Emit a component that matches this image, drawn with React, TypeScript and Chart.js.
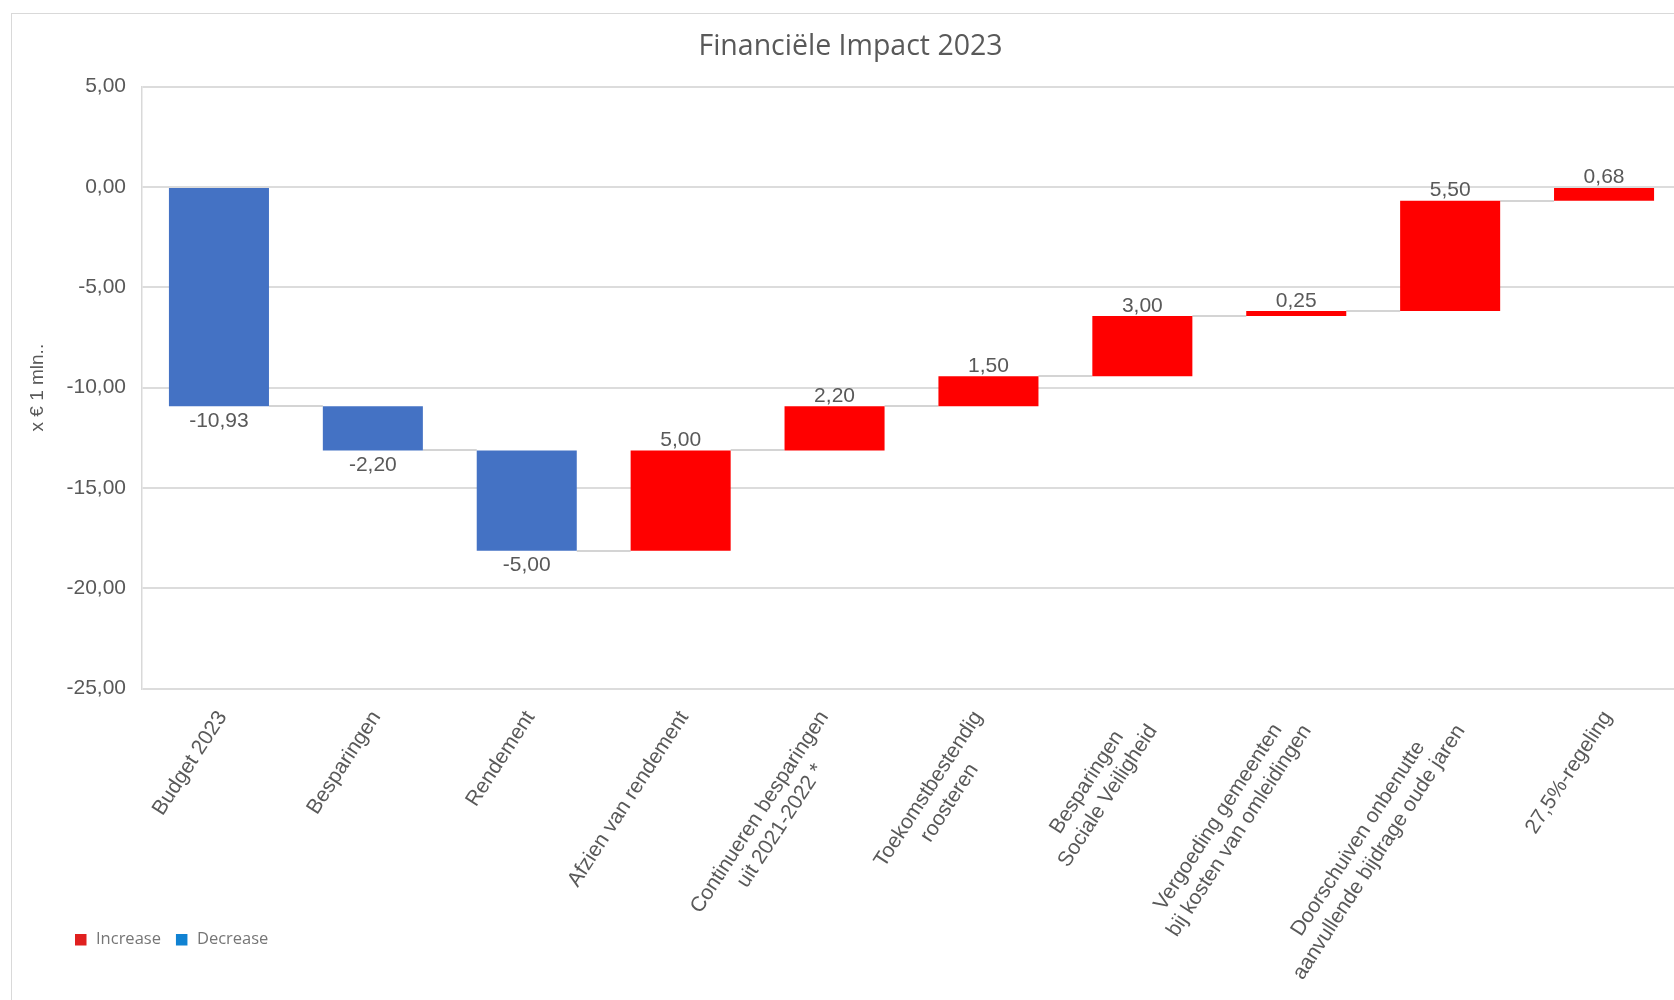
import React, { useEffect, useRef } from "react";
import { Chart, registerables } from "chart.js";

Chart.register(...registerables);

const chartTitle = "Financiële Impact 2023";
const yAxisTitle = "x € 1 mln..";
const categories: string[][] = [
  ["Budget 2023"],
  ["Besparingen"],
  ["Rendement"],
  ["Afzien van rendement"],
  ["Continueren besparingen", "uit 2021-2022 *"],
  ["Toekomstbestendig", "roosteren"],
  ["Besparingen", "Sociale Veiligheid"],
  ["Vergoeding gemeenten", "bij kosten van omleidingen"],
  ["Doorschuiven onbenutte", "aanvullende bijdrage oude jaren"],
  ["27,5%-regeling"],
];
const changes = [-10.93, -2.2, -5.0, 5.0, 2.2, 1.5, 3.0, 0.25, 5.5, 0.68];
const yMin = -25;
const yMax = 5;
const yStep = 5;
const legendItems = ["Increase", "Decrease"];

const INCREASE = "#ff0000";
const DECREASE = "#4472c4";
const LEGEND_INC = "#e0201f";
const LEGEND_DEC = "#1082d2";
const TEXT = "#595959";
const FONT = '"Liberation Sans", Arial, sans-serif';

const fmt = (v: number) => v.toFixed(2).replace(".", ",");

const ranges: [number, number][] = [];
{
  let run = 0;
  for (const c of changes) {
    ranges.push([run, run + c]);
    run += c;
  }
}

const extrasPlugin = {
  id: "waterfallExtras",
  beforeDatasetsDraw(chart: any) {
    const ctx = chart.ctx;
    const meta = chart.getDatasetMeta(0);
    const y = chart.scales.y;
    ctx.save();
    ctx.strokeStyle = "#d4d4d4";
    ctx.lineWidth = 2;
    for (let i = 0; i < meta.data.length - 1; i++) {
      const a: any = meta.data[i];
      const b: any = meta.data[i + 1];
      const yy = Math.round(y.getPixelForValue(ranges[i][1]));
      ctx.beginPath();
      ctx.moveTo(a.x + a.width / 2, yy);
      ctx.lineTo(b.x - b.width / 2, yy);
      ctx.stroke();
    }
    ctx.restore();
  },
  afterDatasetsDraw(chart: any) {
    const ctx = chart.ctx;
    const meta = chart.getDatasetMeta(0);
    const y = chart.scales.y;
    ctx.save();
    ctx.font = `21px ${FONT}`;
    ctx.fillStyle = TEXT;
    ctx.textAlign = "center";
    ctx.textBaseline = "middle";
    meta.data.forEach((el: any, i: number) => {
      const c = changes[i];
      const endPx = y.getPixelForValue(ranges[i][1]);
      const ty = c < 0 ? endPx + 14.5 : endPx - 10;
      ctx.fillText(fmt(c), el.x, ty);
    });
    ctx.restore();
  },
  afterDraw(chart: any) {
    const ctx = chart.ctx;
    const xs = chart.scales.x;
    // category labels, rotated, lines centred within the block
    ctx.save();
    ctx.font = `21px ${FONT}`;
    ctx.fillStyle = TEXT;
    const angle = (57 * Math.PI) / 180;
    const lh = 25;
    categories.forEach((lines, i) => {
      const px = xs.getPixelForTick(i);
      const maxW = Math.max(...lines.map((l) => ctx.measureText(l).width));
      const dx = lines.length > 1 ? -21 : -7;
      ctx.save();
      ctx.translate(px + dx, xs.top + 18);
      ctx.rotate(-angle);
      ctx.textAlign = "center";
      ctx.textBaseline = "middle";
      lines.forEach((l, j) => ctx.fillText(l, -maxW / 2, lh / 2 + j * lh));
      ctx.restore();
    });
    ctx.restore();

    // legend
    ctx.save();
    ctx.font = '16.5px "Open Sans", sans-serif';
    ctx.textBaseline = "middle";
    ctx.textAlign = "left";
    const cy = 939.5;
    let x = 75;
    const colors = [LEGEND_INC, LEGEND_DEC];
    legendItems.forEach((t, i) => {
      ctx.fillStyle = colors[i];
      ctx.fillRect(x, cy - 5.5, 11.5, 11.5);
      ctx.fillStyle = "#767676";
      ctx.fillText(t, x + 21, cy);
      x += 21 + ctx.measureText(t).width + 15;
    });
    ctx.restore();
  },
};

export default function App() {
  const ref = useRef<HTMLCanvasElement | null>(null);

  useEffect(() => {
    if (!ref.current) return;
    const chart = new Chart(ref.current, {
      type: "bar",
      data: {
        labels: categories,
        datasets: [
          {
            data: ranges as any,
            backgroundColor: changes.map((c) => (c < 0 ? DECREASE : INCREASE)),
            borderWidth: 0,
            barPercentage: 0.65,
            categoryPercentage: 1,
          },
        ],
      },
      options: {
        animation: false,
        responsive: false,
        devicePixelRatio: 1,
        layout: { padding: { left: 20, right: 19, top: 10, bottom: 0 } },
        plugins: {
          legend: { display: false },
          tooltip: { enabled: false },
          title: {
            display: true,
            text: chartTitle,
            color: TEXT,
            font: { family: '"Open Sans", sans-serif', size: 28.5, weight: "normal" as any },
            padding: { top: 20, bottom: 22.5 },
          },
        },
        scales: {
          x: {
            grid: { display: false },
            border: { display: false },
            ticks: { display: false },
            afterFit: (s: any) => {
              s.height = 311.4;
            },
          },
          y: {
            min: yMin,
            max: yMax,
            grid: { color: "#dcdcdc", lineWidth: 2, drawTicks: false },
            border: { display: true, color: "#d9d9d9", width: 1.5 },
            ticks: {
              stepSize: yStep,
              color: TEXT,
              padding: 16,
              font: { family: FONT, size: 21 },
              callback: (v: any) => fmt(Number(v)),
            },
            title: {
              display: true,
              text: yAxisTitle,
              color: TEXT,
              font: { family: FONT, size: 19 },
              padding: { top: 6, bottom: 0 },
            },
            afterFit: (s: any) => {
              s.width = 122;
            },
          },
        },
      },
      plugins: [extrasPlugin],
    });
    return () => chart.destroy();
  }, []);

  return (
    <div
      style={{
        position: "absolute",
        left: 0,
        top: 0,
        width: 1674,
        height: 1000,
        overflow: "hidden",
        background: "#ffffff",
      }}
    >
      <div
        style={{
          position: "absolute",
          left: 11,
          top: 13,
          width: 2000,
          height: 2000,
          border: "1px solid #d9d9d9",
        }}
      />
      <canvas
        ref={ref}
        width={1700}
        height={1000}
        style={{ position: "absolute", left: 0, top: 0, width: 1700, height: 1000 }}
      />
    </div>
  );
}
